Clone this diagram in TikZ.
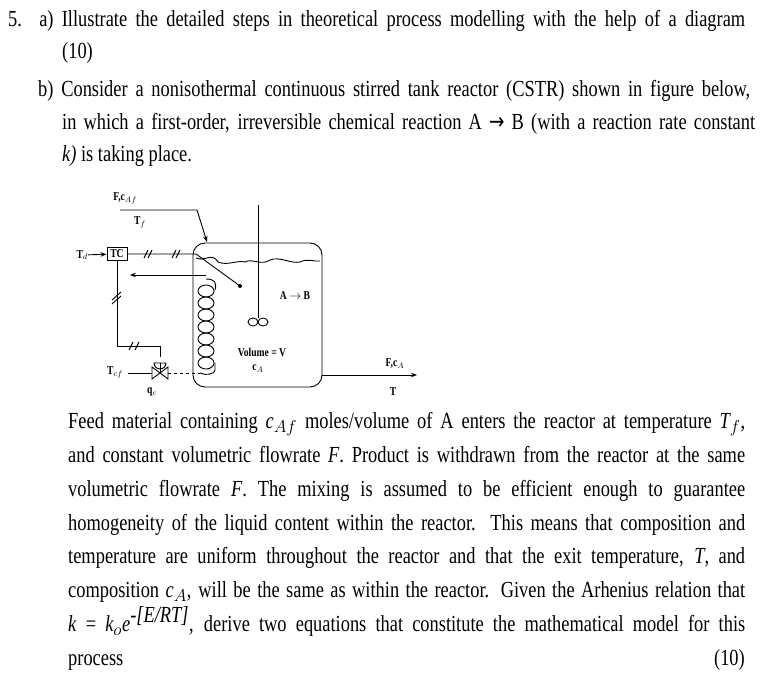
\documentclass[tikz,border=0pt]{standalone}
\usepackage{fontspec}
\setmainfont{Liberation Serif}[FakeStretch=0.8]
\usetikzlibrary{arrows.meta}
\newcommand{\jl}[2]{\makebox[#1pt][s]{#2}}
\begin{document}
\begin{tikzpicture}[x=1pt,y=-1pt,
  txt/.style={anchor=base west,inner sep=0,font=\fontsize{23}{26}\selectfont},
  lab/.style={inner sep=0,font=\fontsize{12}{13}\selectfont\bfseries},
  ln/.style={line width=0.9pt},
  arr/.style={ln,-{Stealth[length=6pt]}}]
\useasboundingbox (0,0) rectangle (772,684);
\fill[white] (0,0) rectangle (772,684);
% header text
\node[txt] (l1) at (8,27) {\jl{737}{5. a) Illustrate the detailed steps in theoretical process modelling with the help of a diagram}};
\node[txt] (l2) at (62,59) {(10)};
\node[txt] (l3) at (38,97) {\jl{712}{b) Consider a nonisothermal continuous stirred tank reactor (CSTR) shown in figure below,}};
\node[txt] (l4) at (62,130) {\jl{693}{in which a first-order, irreversible chemical reaction A {\fontspec{DejaVu Sans}[FakeStretch=0.8]→} B (with a reaction rate constant}};
\node[txt] (l5) at (62,162) {\textit{k)} is taking place.};
% diagram
\draw[ln,rounded corners=12pt] (193,243) rectangle (322,387);
\coordinate (sh1) at (258,205); \coordinate (sh2) at (258,318);
\draw[ln] (sh1) -- (sh2);
\draw[ln] (253,322) ellipse (5 and 4); \draw[ln] (263,322) ellipse (5 and 4);
% liquid level
\draw[ln] (196,258) .. controls (205,262) and (212,252) .. (218,262) .. controls (228,266) and (236,260) .. (245,262) .. controls (252,258) and (262,266) .. (270,260) .. controls (280,256) and (290,264) .. (300,262) .. controls (308,258) and (314,262) .. (320,261);
% coil
\foreach \i in {0,...,6}{
  \draw[ln] (206,{291+\i*12}) ellipse (8 and 6);
}
\draw[ln] (206,279) .. controls (215,279) and (217,283) .. (215,290);
\draw[ln] (215,363) -- (215,370) .. controls (215,374) and (206,376) .. (200,373);
\draw[arr] (206,275) -- (130,275);
% TC
\node[draw,ln,minimum width=20pt,minimum height=13pt,inner sep=0,lab] (tc) at (117,254) {TC};
\node[lab,anchor=east] (td) at (88,255) {T$_d$};
\draw[arr] (td) -- (tc);
\coordinate (sens) at (240,286);
\draw[ln] (tc.east) -- (196,254) -- (sens);
\fill (sens) circle (2);
\foreach \x in {147,175}{\draw[ln] (\x-3,258)--(\x+1,250); \draw[ln] (\x+1,258)--(\x+5,250);}
% feed
\node[lab] (ff) at (125,198) {F,c$_{Af}$};
\node[lab] (tf) at (140,222) {T$_f$};
\draw[arr] (120,210) -- (197,210) -- (207,242);
% signal to valve
\draw[ln] (tc.south) -- (117,346) -- (160,346) -- (160,357);
\draw[ln] (112,304)--(121,296); \draw[ln] (112,300)--(121,292);
\foreach \x in {132,138}{\draw[ln] (\x-3,350)--(\x+1,342);}
\draw[ln,fill=white] (154,363) arc (180:0:6) -- cycle;
\draw[ln] (160,363) -- (160,373);
\draw[ln] (152,367) -- (168,379) -- (168,367) -- (152,379) -- cycle;
\node[lab] (tcf) at (115,372) {T$_{cf}$};
\draw[ln] (128,373) -- (152,373);
\draw[ln,dashed] (168,373) -- (200,373);
\node[lab] (qc) at (152,392) {q$_c$};
\node[lab] (ab) at (295,296) {A $\rightarrow$ B};
\node[lab] (vol) at (262,352) {Volume = V};
\node[lab] (ca) at (258,369) {c$_A$};
\coordinate (out) at (417,375);
\draw[arr] (322,375) -- (out);
\node[lab] (fca) at (395,364) {F,c$_A$};
\node[lab] (tt) at (393,392) {T};
% body text
\node[txt] at (68,429) {\jl{677}{Feed material containing \textit{c$_{Af}$} moles/volume of A enters the reactor at temperature \textit{T$_f$},}};
\node[txt] at (68,463) {\jl{677}{and constant volumetric flowrate \textit{F}. Product is withdrawn from the reactor at the same}};
\node[txt] at (68,497) {\jl{677}{volumetric flowrate \textit{F}. The mixing is assumed to be efficient enough to guarantee}};
\node[txt] at (68,531) {\jl{677}{homogeneity of the liquid content within the reactor. This means that composition and}};
\node[txt] at (68,564) {\jl{677}{temperature are uniform throughout the reactor and that the exit temperature, \textit{T}, and}};
\node[txt] at (68,598) {\jl{677}{composition \textit{c$_A$}, will be the same as within the reactor. Given the Arhenius relation that}};
\node[txt] at (68,632) {\jl{677}{\textit{k} = \textit{k$_o$e}$^{\textit{-[E/RT]}}$, derive two equations that constitute the mathematical model for this}};
\node[txt] at (68,666) {process};
\node[txt,anchor=base east] at (745,666) {(10)};
\end{tikzpicture}
\end{document}
